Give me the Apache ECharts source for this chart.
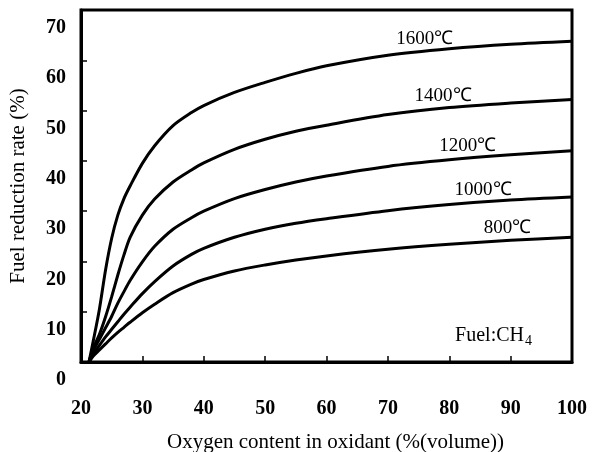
<!DOCTYPE html>
<html>
<head>
<meta charset="utf-8">
<script src="https://cdn.jsdelivr.net/npm/echarts@6/dist/echarts.min.js"></script>
<style>
  html, body { margin: 0; padding: 0; background: #fff; }
  #chart { width: 594px; height: 452px; }
</style>
</head>
<body>
<div id="chart"></div>
<script>
// Oxygen content in oxidant (% volume)
const oxygen = [21.3, 22, 23, 24, 25, 26, 27, 28, 30, 32, 35, 38, 40, 45, 50, 55, 60, 70, 80, 90, 100];
// Fuel reduction rate (%) per flame temperature
const t1600 = [0, 4.2, 10.5, 18.3, 24.6, 29.2, 32.5, 35, 39.5, 43, 47, 49.6, 51, 53.6, 55.6, 57.4, 58.9, 61, 62.3, 63.2, 63.8];
const t1400 = [0, 2.8, 5.5, 9, 13, 17.3, 21.3, 24.8, 29.2, 32.4, 35.8, 38.2, 39.6, 42.3, 44.3, 45.9, 47.1, 49.2, 50.6, 51.5, 52.2];
const t1200 = [0, 2.3, 4.5, 6.8, 9.1, 11.7, 14, 16.2, 19.9, 23, 26.4, 28.7, 30, 32.5, 34.3, 35.8, 37, 38.9, 40.2, 41.2, 42];
const t1000 = [0, 1.5, 3.3, 5, 6.5, 8, 9.5, 10.9, 13.6, 16, 19.1, 21.4, 22.6, 24.8, 26.4, 27.6, 28.5, 30.1, 31.3, 32.2, 32.8];
const t800  = [0, 1.2, 2.4, 3.6, 4.8, 5.9, 6.9, 7.9, 9.8, 11.5, 13.8, 15.5, 16.4, 18.1, 19.3, 20.3, 21.1, 22.4, 23.4, 24.2, 24.8];
const seriesNames = ['1600℃', '1400℃', '1200℃', '1000℃', '800℃'];
const seriesValues = [t1600, t1400, t1200, t1000, t800];
// where along x each curve's label sits
const labelX = [76, 79, 83, 85.5, 89.5];
const xTicks = [20, 30, 40, 50, 60, 70, 80, 90, 100];
const yTicks = [0, 10, 20, 30, 40, 50, 60, 70];

const FONT = '"Liberation Serif", "Times New Roman", serif';

function interp(xs, ys, x) {
  for (let i = 1; i < xs.length; i++) {
    if (x <= xs[i]) {
      const t = (x - xs[i - 1]) / (xs[i] - xs[i - 1]);
      return ys[i - 1] + t * (ys[i] - ys[i - 1]);
    }
  }
  return ys[ys.length - 1];
}

const series = seriesValues.map((vals, i) => ({
  name: seriesNames[i],
  type: 'line',
  data: oxygen.map((x, j) => [x, vals[j]]),
  smooth: 0.3,
  symbol: 'none',
  lineStyle: { color: '#000', width: 3 },
  silent: true,
  markPoint: {
    symbol: 'circle',
    symbolSize: 0,
    data: [{
      coord: [labelX[i], interp(oxygen, vals, labelX[i])],
      label: {
        show: true,
        formatter: seriesNames[i],
        position: 'top',
        distance: 3,
        color: '#000',
        fontFamily: FONT,
        fontSize: 19
      }
    }]
  }
}));

const chart = echarts.init(document.getElementById('chart'), null, { renderer: 'canvas' });
chart.setOption({
  animation: false,
  backgroundColor: '#fff',
  grid: {
    left: 81, right: 22, top: 10, bottom: 90,
    containLabel: false,
    outerBoundsMode: 'none',
    show: true, borderColor: '#000', borderWidth: 3, backgroundColor: 'transparent'
  },
  xAxis: {
    type: 'value',
    min: xTicks[0], max: xTicks[xTicks.length - 1], interval: 10,
    name: 'Oxygen content in oxidant (%(volume))',
    nameLocation: 'middle',
    nameGap: 70,
    nameTextStyle: { color: '#000', fontFamily: FONT, fontSize: 21, padding: [0, 0, 0, 18] },
    axisLine: { show: true, lineStyle: { color: '#000', width: 3 } },
    axisTick: { show: true, inside: true, length: 6, lineStyle: { color: '#000', width: 1.5 } },
    axisLabel: { color: '#000', fontFamily: FONT, fontSize: 20, fontWeight: 'bold', margin: 37 },
    splitLine: { show: false }
  },
  yAxis: {
    type: 'value',
    min: yTicks[0], max: yTicks[yTicks.length - 1], interval: 10,
    name: 'Fuel reduction rate (%)',
    nameLocation: 'middle',
    nameGap: 52,
    nameRotate: 90,
    nameTextStyle: { color: '#000', fontFamily: FONT, fontSize: 21 },
    axisLine: { show: true, lineStyle: { color: '#000', width: 3 } },
    axisTick: { show: true, inside: true, length: 6, lineStyle: { color: '#000', width: 1.5 } },
    axisLabel: {
      color: '#000', fontFamily: FONT, fontSize: 20, fontWeight: 'bold', margin: 15,
      verticalAlign: 'top', padding: [8, 0, 0, 0]
    },
    splitLine: { show: false }
  },
  graphic: [{
    type: 'text',
    right: 62, bottom: 104,
    style: {
      text: '{a|Fuel:CH}{b|4}',
      rich: {
        a: { fontFamily: FONT, fontSize: 20, fill: '#000', color: '#000' },
        b: { fontFamily: FONT, fontSize: 14, fill: '#000', color: '#000', padding: [11, 0, 0, 1] }
      }
    }
  }],
  series: series
});
</script>
</body>
</html>
